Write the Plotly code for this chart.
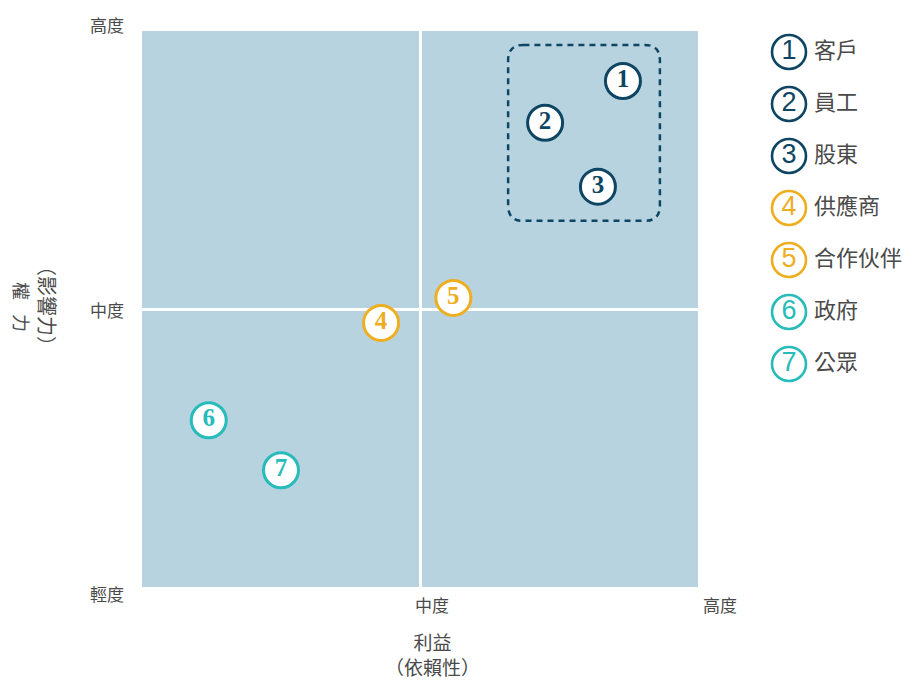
import plotly.graph_objects as go

# ---- data ----
ids = ["1", "2", "3", "4", "5", "6", "7"]
names = ["客戶", "員工", "股東", "供應商", "合作伙伴", "政府", "公眾"]
interest = [1.73, 1.45, 1.64, 0.86, 1.12, 0.24, 0.50]   # x: 利益（依賴性）
power = [1.82, 1.67, 1.44, 0.95, 1.04, 0.60, 0.42]      # y: 權力（影響力）
groups = ["a", "a", "a", "b", "b", "c", "c"]
y_tick_vals = [0, 1, 2]
y_tick_text = ["輕度", "中度", "高度"]
x_tick_vals = [1, 2]
x_tick_text = ["中度", "高度"]
box = dict(x0=1.317, x1=1.863, y0=1.317, y1=1.950)   # dashed grouping box

group_colors = {"a": "#0e4563", "b": "#eeae1f", "c": "#27bbb9"}
colors = [group_colors[g] for g in groups]

# page has an 8px body margin
W, H = 906, 673
L, R, T, B = 134, 0, 23, 94
plot_w = W - L - R
main_w = 556
cjk = "Noto Sans CJK TC, Noto Sans CJK SC, sans-serif"
gray = "#4a4a4a"

fig = go.Figure()

fig.add_shape(type="rect", xref="x", yref="y", x0=0, x1=2, y0=0, y1=2,
              fillcolor="#b7d3e0", line=dict(width=0), layer="below")

fig.add_trace(go.Scatter(
    x=interest, y=power, mode="markers+text", text=ids,
    textposition="middle center",
    textfont=dict(family="Liberation Serif, DejaVu Serif, serif", size=25,
                  color=colors, weight="bold"),
    marker=dict(size=35, color="white", line=dict(color=colors, width=3)),
    hoverinfo="skip", showlegend=False, xaxis="x", yaxis="y",
))

# legend drawn on a secondary axis
leg_idx = list(range(len(ids)))
fig.add_trace(go.Scatter(
    x=[29] * len(ids), y=leg_idx, mode="markers+text", text=ids,
    textposition="middle center",
    textfont=dict(family="Liberation Sans, Arial, sans-serif", size=27, color=colors),
    marker=dict(size=34, color="white", line=dict(color=colors, width=2.6)),
    hoverinfo="skip", showlegend=False, xaxis="x2", yaxis="y2",
))
fig.add_trace(go.Scatter(
    x=[54] * len(ids), y=leg_idx, mode="text", text=names,
    textposition="middle right",
    textfont=dict(family=cjk, size=22, color=gray),
    hoverinfo="skip", showlegend=False, xaxis="x2", yaxis="y2",
))

# rounded dashed box
r = 0.055
x0, x1, y0, y1 = box["x0"], box["x1"], box["y0"], box["y1"]
path = (f"M {x0+r},{y1} L {x1-r},{y1} Q {x1},{y1} {x1},{y1-r} "
        f"L {x1},{y0+r} Q {x1},{y0} {x1-r},{y0} L {x0+r},{y0} "
        f"Q {x0},{y0} {x0},{y0+r} L {x0},{y1-r} Q {x0},{y1} {x0+r},{y1} Z")
fig.add_shape(type="path", path=path, xref="x", yref="y",
              line=dict(color="#0e4563", width=2.5, dash="6px,5px"),
              fillcolor="rgba(0,0,0,0)")

ann = []
for v, t in zip(y_tick_vals, y_tick_text):
    shift = {0: -6, 1: 0, 2: 7}[v]
    ann.append(dict(x=0, xref="paper", y=v, yref="y", text=t, showarrow=False,
                    xanchor="right", yanchor="middle", xshift=-16, yshift=shift,
                    font=dict(family=cjk, size=17, color=gray)))
for v, t in zip(x_tick_vals, x_tick_text):
    ann.append(dict(x=v, xref="x", y=0, yref="y", text=t, showarrow=False,
                    xanchor="center", yanchor="middle",
                    xshift=12 if v == 1 else 22, yshift=-17,
                    font=dict(family=cjk, size=17, color=gray)))
# x axis title (two lines)
ann.append(dict(x=1, xref="x", y=0, yref="y", text="利益<br>（依賴性）",
                showarrow=False, xanchor="center", yanchor="middle",
                xshift=12, yshift=-67, font=dict(family=cjk, size=19, color=gray)))
# y axis title (two vertical columns, rotated glyphs); page-pixel centres
ytitle = [("權", 22, 291, 18), ("力", 22, 323, 18), ("（影響力）", 48, 306, 20)]
for txt, px, py, fs in ytitle:
    ann.append(dict(x=0, xref="paper", y=1, yref="y", text=txt, showarrow=False,
                    xanchor="center", yanchor="middle", textangle=90,
                    xshift=px - 142, yshift=309 - py,
                    font=dict(family=cjk, size=fs, color=gray)))

fig.update_layout(
    width=W, height=H,
    margin=dict(l=L, r=R, t=T, b=B),
    paper_bgcolor="white",
    plot_bgcolor="white",
    annotations=ann,
    xaxis=dict(domain=[0, main_w / plot_w], range=[0, 2], tickvals=[1],
               showticklabels=False, showgrid=True, gridcolor="white", gridwidth=2.5,
               zeroline=False, showline=False, ticks="", fixedrange=True),
    yaxis=dict(range=[0, 2], tickvals=[1], showticklabels=False, showgrid=True,
               gridcolor="white", gridwidth=2.5, zeroline=False, showline=False,
               ticks="", fixedrange=True),
    xaxis2=dict(domain=[(752 - L) / plot_w, 1], range=[0, W - 752], visible=False,
                fixedrange=True),
    yaxis2=dict(anchor="x2", range=[(587 - 52) / 52, -21 / 52], visible=False,
                fixedrange=True),
)

fig.write_html("out.html")
